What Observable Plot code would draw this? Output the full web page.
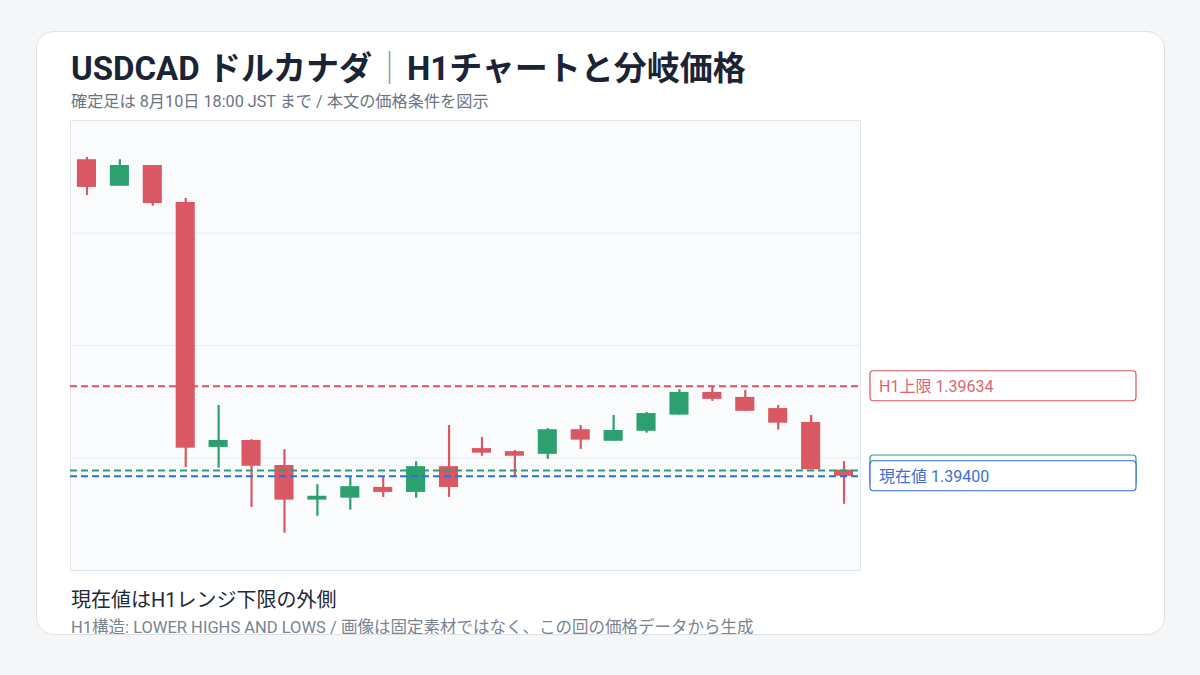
<!DOCTYPE html>
<html lang="ja">
<head>
<meta charset="utf-8">
<script src="https://cdn.jsdelivr.net/npm/d3@7"></script>
<script src="https://cdn.jsdelivr.net/npm/@observablehq/plot@0.6"></script>
<style>
  html, body { margin: 0; padding: 0; }
  body { width: 1200px; height: 675px; background: #f4f6f8; position: relative; overflow: hidden;
         font-family: Roboto, "Noto Sans CJK JP", sans-serif; }
  #card { position: absolute; left: 36px; top: 31px; width: 1127px; height: 602px;
          background: #ffffff; border: 1.5px solid #dde2e9; border-radius: 18px; overflow: hidden; }
  #title { position: absolute; left: 34px; top: 20px; font-size: 33px; font-weight: 700;
           color: #1b2435; line-height: 1; white-space: nowrap; }
  #title .sep { color: #8e97a3; font-weight: 400; margin: 0 1px; }
  #subtitle { position: absolute; left: 34px; top: 62px; font-size: 16.2px; color: #6b7482;
              line-height: 1; white-space: nowrap; }
  #chart { position: absolute; left: 32px; top: 87px; }
  #note { position: absolute; left: 34px; top: 558px; font-size: 20px; color: #1f2937;
          line-height: 1; white-space: nowrap; }
  #caption { position: absolute; left: 34px; top: 588px; font-size: 16.5px; color: #7a8391;
             line-height: 1; white-space: nowrap; }
</style>
</head>
<body>
<div id="card">
  <div id="title">USDCAD ドルカナダ<span class="sep">｜</span>H1チャートと分岐価格</div>
  <div id="subtitle">確定足は 8月10日 18:00 JST まで / 本文の価格条件を図示</div>
  <div id="chart"></div>
  <div id="note">現在値はH1レンジ下限の外側</div>
  <div id="caption">H1構造: LOWER HIGHS AND LOWS / 画像は固定素材ではなく、この回の価格データから生成</div>
</div>
<script>
// ---- data ----
const candleIndex = d3.range(24);
const opens  = [1.40223,1.40154,1.40208,1.40112,1.39475,1.39493,1.39428,1.39338,1.39343,1.39371,1.39358,1.39425,1.39472,1.39464,1.39457,1.39521,1.39491,1.39517,1.39559,1.39618,1.39605,1.39576,1.39540,1.39416];
const highs  = [1.40229,1.40223,1.40208,1.40122,1.39584,1.39495,1.39469,1.39378,1.39397,1.39397,1.39438,1.39532,1.39501,1.39467,1.39524,1.39532,1.39558,1.39566,1.39625,1.39634,1.39623,1.39584,1.39558,1.39438];
const lows   = [1.40130,1.40154,1.40102,1.39423,1.39421,1.39319,1.39252,1.39296,1.39312,1.39345,1.39343,1.39345,1.39452,1.39399,1.39444,1.39470,1.39491,1.39512,1.39559,1.39595,1.39569,1.39520,1.39417,1.39327];
const closes = [1.40151,1.40208,1.40109,1.39473,1.39493,1.39426,1.39338,1.39348,1.39373,1.39358,1.39425,1.39371,1.39460,1.39452,1.39521,1.39494,1.39519,1.39563,1.39618,1.39600,1.39569,1.39538,1.39417,1.39400];

const levelNames  = ["H1上限", "H1下限", "現在値"];
const levelValues = [1.39634, 1.39415, 1.39400];
const levelColors = ["#d9545f", "#2c9f6c", "#2f6ce0"];
const levelTextColors = ["#dc6470", "#2c9f6c", "#3b6ed6"];

const yDomain = [1.39155, 1.40325];

const UP = "#2ca06e", DOWN = "#da5863";

const candles = candleIndex.map(i => ({
  i, open: opens[i], high: highs[i], low: lows[i], close: closes[i],
  dir: closes[i] >= opens[i] ? "up" : "down"
}));
const levels = levelNames.map((name, k) => ({name, value: levelValues[k], color: levelColors[k], text: levelTextColors[k]}));
const gridValues = d3.range(1, 4).map(k => yDomain[0] + (yDomain[1] - yDomain[0]) * k / 4);

const chart = Plot.plot({
  width: 1070,
  height: 452,
  marginLeft: 1,
  marginRight: 279,
  marginTop: 1,
  marginBottom: 1,
  style: {fontFamily: "Roboto, Noto Sans CJK JP, sans-serif", background: "transparent", overflow: "visible"},
  x: {type: "band", domain: candleIndex, paddingInner: 0.42, paddingOuter: 0.21, round: false, axis: null},
  y: {domain: yDomain, axis: null},
  color: {domain: ["up", "down"], range: [UP, DOWN]},
  marks: [
    Plot.frame({fill: "#f9fbfd", stroke: "#e1e6ed", strokeWidth: 1}),
    Plot.gridY(gridValues, {stroke: "#e9edf2", strokeOpacity: 1, strokeWidth: 1}),
    Plot.ruleX(candles, {x: "i", y1: "low", y2: "high", stroke: "dir", strokeWidth: 2.2}),
    Plot.barY(candles, {x: "i", y1: "open", y2: "close", fill: "dir"}),
    Plot.ruleY(levels, {y: "value", stroke: "color", strokeWidth: 2, strokeDasharray: "7,4"})
  ]
});
document.getElementById("chart").appendChild(chart);

// level labels, positioned through the plot's own y scale
const yScale = chart.scale("y");
const svg = d3.select(chart);
const frameRight = 1070 - 279;
const boxX = frameRight + 10, boxW = 266, boxH = 30;
const g = svg.append("g").attr("font-family", "Roboto, Noto Sans CJK JP, sans-serif").attr("text-anchor", "start");
levels.forEach(l => {
  const y = yScale.apply(l.value);
  const lg = g.append("g");
  lg.append("rect").attr("x", boxX).attr("y", y - boxH / 2).attr("width", boxW).attr("height", boxH)
    .attr("rx", 3.5).attr("fill", "#ffffff").attr("stroke", l.color).attr("stroke-width", 1.2);
  lg.append("text").attr("x", boxX + 9).attr("y", y).attr("dy", "0.36em")
    .attr("text-anchor", "start").attr("font-size", 16).attr("fill", l.text)
    .text(`${l.name} ${l.value.toFixed(5)}`);
});
</script>
</body>
</html>
